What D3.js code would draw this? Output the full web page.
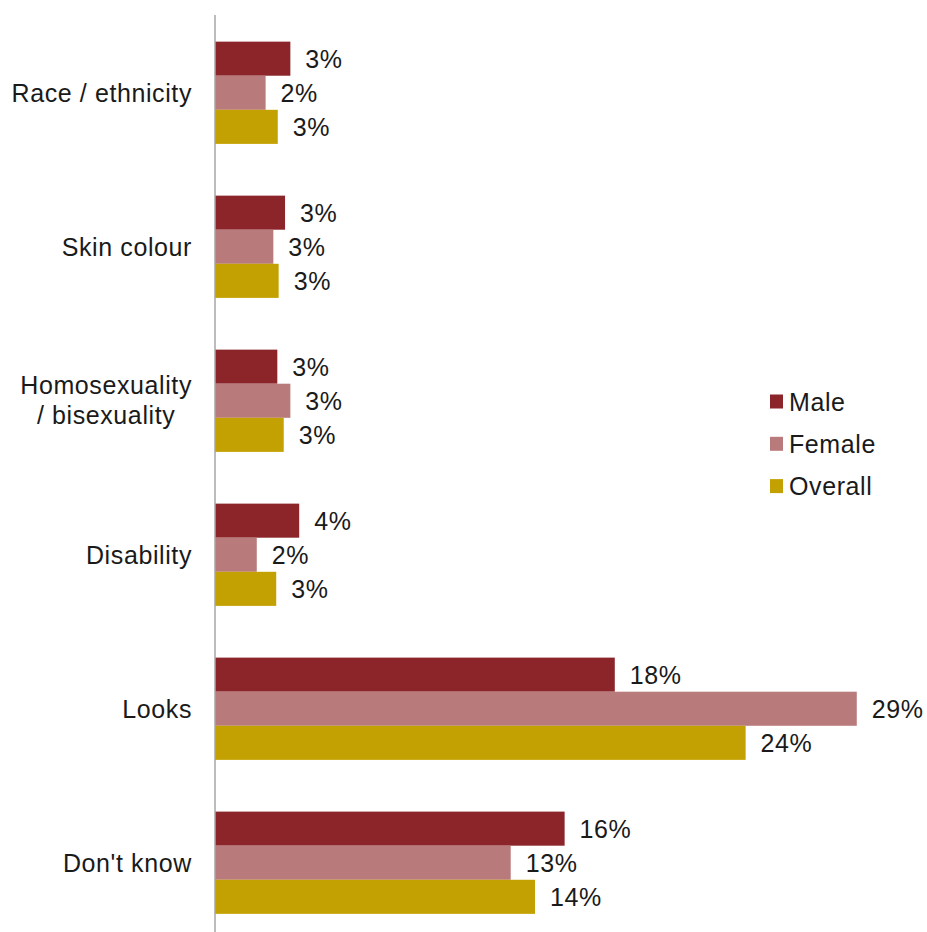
<!DOCTYPE html>
<html>
<head>
<meta charset="utf-8">
<script src="https://cdn.jsdelivr.net/npm/d3@7"></script>
<style>
  body { margin: 0; background: #fff; }
  text { font-family: "Liberation Sans", Arial, sans-serif; font-size: 25px; letter-spacing: 0.6px; fill: #1a1a1a; }
</style>
</head>
<body>
<div id="chart"></div>
<script>
// categories, top to bottom
var categories = ["Race / ethnicity", "Skin colour", "Homosexuality / bisexuality", "Disability", "Looks", "Don't know"];
var series = ["Male", "Female", "Overall"];
// percent values (labels are rounded)
var male    = [3.41, 3.17, 2.82, 3.81, 18.09, 15.82];
var female  = [2.29, 2.64, 3.41, 1.89, 29.04, 13.38];
var overall = [2.84, 2.88, 3.11, 2.77, 24.01, 14.48];
var colors = ["#8b252a", "#b87a7b", "#c4a102"];

var width = 927, height = 932;
var x0 = 215; // axis position

var svg = d3.select("#chart").append("svg")
  .attr("width", width)
  .attr("height", height);

var x = d3.scaleLinear().domain([0, 30]).range([x0, x0 + 663]);

var y = d3.scaleBand()
  .domain(categories)
  .range([15, 940.5])
  .paddingInner(0.336)
  .paddingOuter(0.173);

var ySub = d3.scaleBand().domain(series).range([0, y.bandwidth()]);

var color = d3.scaleOrdinal().domain(series).range(colors);

var rows = categories.map(function (c, i) {
  return { cat: c, vals: [
    { s: "Male", v: male[i] },
    { s: "Female", v: female[i] },
    { s: "Overall", v: overall[i] }
  ]};
});

var groups = svg.selectAll(".grp")
  .data(rows)
  .enter().append("g")
  .attr("class", "grp")
  .attr("transform", function (d) { return "translate(0," + y(d.cat) + ")"; });

groups.selectAll("rect")
  .data(function (d) { return d.vals; })
  .enter().append("rect")
  .attr("x", x(0))
  .attr("y", function (d) { return ySub(d.s); })
  .attr("width", function (d) { return x(d.v) - x(0); })
  .attr("height", ySub.bandwidth())
  .attr("fill", function (d) { return color(d.s); });

// value labels
groups.selectAll(".val")
  .data(function (d) { return d.vals; })
  .enter().append("text")
  .attr("class", "val")
  .attr("x", function (d) { return x(d.v) + 15; })
  .attr("y", function (d) { return ySub(d.s) + ySub.bandwidth() / 2; })
  .attr("dy", "0.36em")
  .text(function (d) { return Math.round(d.v) + "%"; });

// category labels (wrap the long one)
groups.each(function (d) {
  var g = d3.select(this);
  var mid = y.bandwidth() / 2;
  var lines = d.cat == "Homosexuality / bisexuality" ? ["Homosexuality", "/ bisexuality"] : [d.cat];
  var t = g.append("text")
    .attr("text-anchor", "middle")
    .attr("x", 0);
  lines.forEach(function (l, i) {
    t.append("tspan")
      .attr("x", 0)
      .attr("y", lines.length == 1 ? mid + 9 : mid - 7 + i * 30)
      .text(l);
  });
  // right-align against the axis
  var bb = t.node().getBBox();
  t.attr("transform", "translate(" + (x0 - 23 - bb.width / 2) + ",0)");
});

// axis line
svg.append("line")
  .attr("x1", x0).attr("x2", x0)
  .attr("y1", 15).attr("y2", 940)
  .attr("stroke", "#a6a6a6")
  .attr("stroke-width", 1.5);

// legend
var legend = svg.append("g")
  .attr("transform", "translate(770,401.5)");

var li = legend.selectAll(".li")
  .data(series)
  .enter().append("g")
  .attr("transform", function (d, i) { return "translate(0," + i * 42.3 + ")"; });

li.append("rect")
  .attr("x", 0).attr("y", -7)
  .attr("width", 13).attr("height", 14)
  .attr("fill", function (d) { return color(d); });

li.append("text")
  .attr("x", 19)
  .attr("dy", "0.36em")
  .text(function (d) { return d; });
</script>
</body>
</html>
